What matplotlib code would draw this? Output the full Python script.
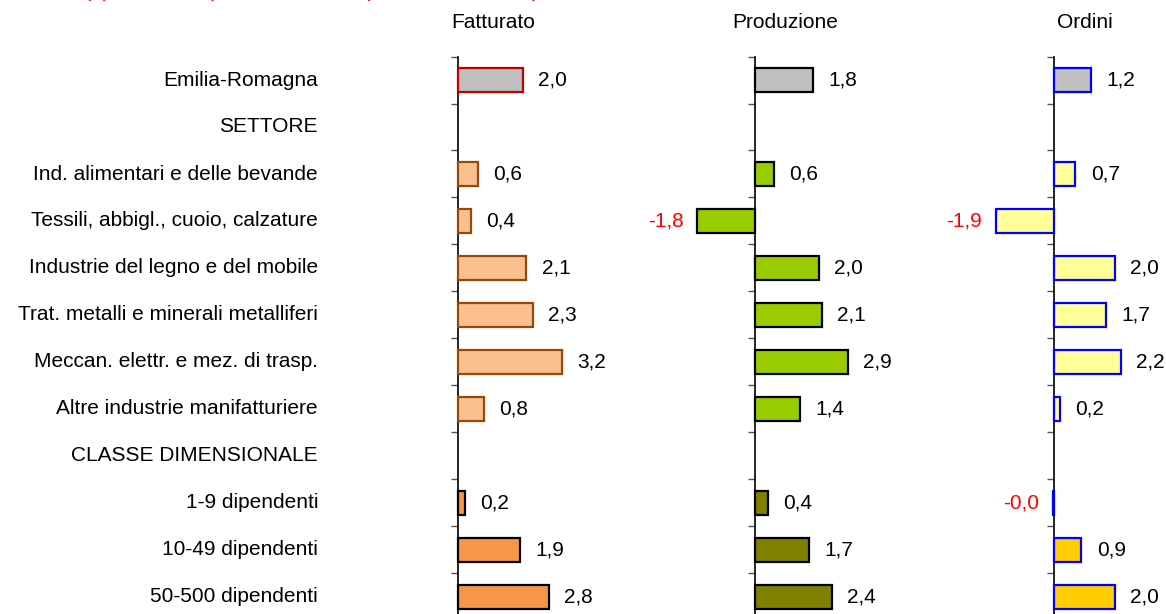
import numpy as np
import matplotlib.pyplot as plt
from matplotlib import transforms

plt.rcParams['font.family'] = ['Liberation Sans', 'DejaVu Sans']

categorie = ["Emilia-Romagna", "SETTORE", "Ind. alimentari e delle bevande",
             "Tessili, abbigl., cuoio, calzature", "Industrie del legno e del mobile",
             "Trat. metalli e minerali metalliferi", "Meccan. elettr. e mez. di trasp.",
             "Altre industrie manifatturiere", "CLASSE DIMENSIONALE",
             "1-9 dipendenti", "10-49 dipendenti", "50-500 dipendenti"]

# None = riga di intestazione senza barra
fatturato = [2.0, None, 0.6, 0.4, 2.1, 2.3, 3.2, 0.8, None, 0.2, 1.9, 2.8]
produzione = [1.8, None, 0.6, -1.8, 2.0, 2.1, 2.9, 1.4, None, 0.4, 1.7, 2.4]
ordini = [1.2, None, 0.7, -1.9, 2.0, 1.7, 2.2, 0.2, None, -0.04, 0.9, 2.0]

titoli = ["Fatturato", "Produzione", "Ordini"]
nota = "(1) Var. %, rispetto allo stesso periodo dell'anno precedente"

# colori: (regione, settori, classi) -> (riempimento, bordo)
stili = [
    [("#C0C0C0", "#C00000"), ("#FAC090", "#984807"), ("#F79646", "#000000")],
    [("#C0C0C0", "#000000"), ("#99CC00", "#000000"), ("#808000", "#000000")],
    [("#C0C0C0", "#0000FF"), ("#FFFF99", "#0000FF"), ("#FFCC00", "#0000FF")],
]

W, H = 1166, 614
fig = plt.figure(figsize=(W / 100, H / 100), dpi=100)

# posizione pannelli in pixel: (zero, px per unita', xmin, xmax)
pannelli = [(458, 32.5, -2.5, 4.5), (755, 32.0, -2.5, 4.5), (1054, 30.5, -2.5, 3.6)]
top_px, bot_px = 56.5, 620.5
n = len(categorie)
fs = 15

assi = []
for k, (serie, (zero, scala, x0, x1)) in enumerate(zip([fatturato, produzione, ordini], pannelli)):
    left = zero + x0 * scala
    width = (x1 - x0) * scala
    ax = fig.add_axes([left / W, 1 - bot_px / H, width / W, (bot_px - top_px) / H])
    ax.set_xlim(x0, x1)
    ax.set_ylim(n - 0.5, -0.5)
    for s in ['top', 'right', 'bottom']:
        ax.spines[s].set_visible(False)
    ax.spines['left'].set_position(('data', 0))
    ax.spines['left'].set_linewidth(1.2)
    ax.set_xticks([])
    ax.set_yticks(np.arange(-0.5, n, 1.0))
    ax.set_yticklabels([])
    ax.tick_params(axis='y', direction='out', length=5, width=1, color='#555555')

    for i, v in enumerate(serie):
        if v is None:
            continue
        gruppo = 0 if i == 0 else (1 if i < 8 else 2)
        fc, ec = stili[k][gruppo]
        ax.barh(i, v, height=0.5, color=fc, edgecolor=ec, linewidth=1.6, zorder=3)
        testo = f"{v:.1f}".replace('.', ',')
        if v < 0:
            ax.annotate(testo, (v, i), xytext=(-10, 0), textcoords='offset points',
                        ha='right', va='center', fontsize=fs, color='#FF0000')
        else:
            ax.annotate(testo, (v, i), xytext=(11, 0), textcoords='offset points',
                        ha='left', va='center', fontsize=fs, color='black')
    assi.append(ax)

# etichette categorie
tr = transforms.blended_transform_factory(fig.transFigure, assi[0].transData)
for i, c in enumerate(categorie):
    fig.text(318 / W, i, c, transform=tr, ha='right', va='center', fontsize=fs)

# titoli pannelli
for t, xc in zip(titoli, [493, 785, 1085]):
    fig.text(xc / W, 1 - 23 / H, t, ha='center', va='center', fontsize=fs)

# nota in alto (tagliata dal bordo come nell'originale)
fig.text(86 / W, 1 + 3 / H, nota, ha='left', va='baseline', fontsize=fs,
         color='#FF0000', style='italic')

fig.savefig("out.png", dpi=100)
